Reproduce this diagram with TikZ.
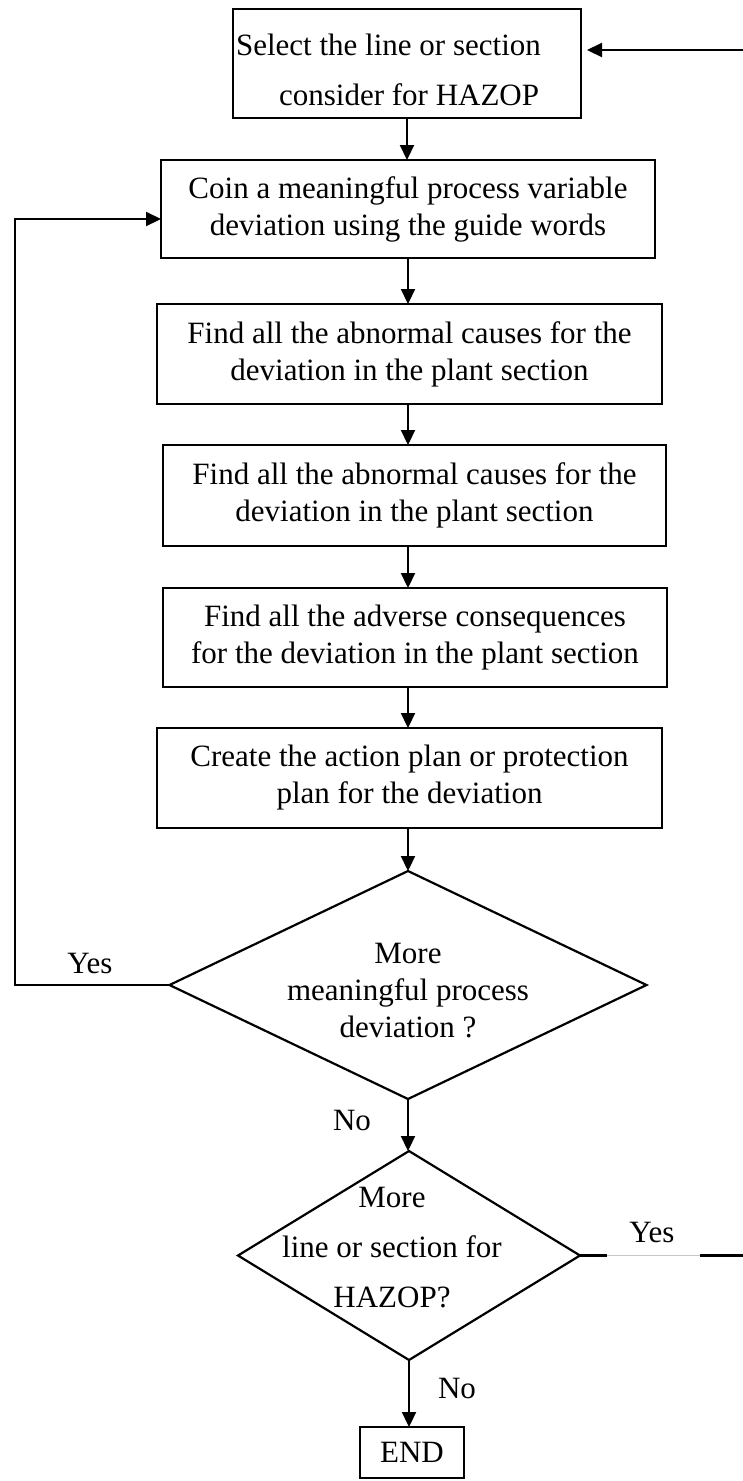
\documentclass[tikz,border=0pt]{standalone}
\usepackage{fontspec}
\setmainfont{Liberation Serif}
\usetikzlibrary{arrows.meta,shapes.geometric}
\begin{document}
\begin{tikzpicture}[x=1pt,y=-1pt,
  font=\fontsize{31}{37}\selectfont,
  line width=2.2pt,
  stepbox/.style={draw,rectangle,inner sep=0pt,outer sep=0pt,align=center},
  decision/.style={draw,diamond,inner sep=0pt,outer sep=0pt},
  flow/.style={-{Triangle[length=15pt,width=14pt]}},
  lbl/.style={inner sep=0pt}]
\useasboundingbox (0,0) rectangle (743,1481);

% process boxes
\node[stepbox,minimum width=348pt,minimum height=109pt] (box1) at (407,63.5) {};
\node[lbl,anchor=west] (sel1) at (235,45) {Select the line or section};
\node[lbl,anchor=west] (sel2) at (278,95) {consider for HAZOP};
\node[stepbox,minimum width=494pt,minimum height=98pt] (box2) at (408,209)
  {Coin a meaningful process variable\\deviation using the guide words};
\node[stepbox,minimum width=505pt,minimum height=100pt] (box3) at (409.5,354)
  {Find all the abnormal causes for the\\deviation in the plant section};
\node[stepbox,minimum width=503pt,minimum height=101pt] (box4) at (414.5,495.5)
  {Find all the abnormal causes for the\\deviation in the plant section};
\node[stepbox,minimum width=504pt,minimum height=99pt] (box5) at (415,637.5)
  {Find all the adverse consequences\\for the deviation in the plant section};
\node[stepbox,minimum width=505pt,minimum height=100pt] (box6) at (409.5,778)
  {Create the action plan or protection\\plan for the deviation};

% decisions
\node[decision,minimum width=477pt,minimum height=228pt] (d1) at (408,985) {};
\node[lbl,align=center] (d1text) at (408,990.5) {More\\meaningful process\\deviation ?};
\node[decision,minimum width=342pt,minimum height=209pt] (d2) at (409,1255.5) {};
\node[lbl,align=center,font=\fontsize{31}{50}\selectfont] (d2text) at (392,1248)
  {More\\line or section for\\HAZOP?};

% end
\node[stepbox,minimum width=104pt,minimum height=51pt] (endbox) at (412,1452.5) {END};

% main flow
\draw[flow] (box1.south) -- (box1.south |- box2.north);
\draw[flow] (box2.south) -- (box2.south |- box3.north);
\draw[flow] (box2.south |- box3.south) -- (box2.south |- box4.north);
\draw[flow] (box2.south |- box4.south) -- (box2.south |- box5.north);
\draw[flow] (box2.south |- box5.south) -- (box2.south |- box6.north);
\draw[flow] (d1.north |- box6.south) -- (d1.north);
\draw[flow] (d1.south) -- (d1.south |- d2.north);
\draw[flow] (d2.south) -- (d2.south |- endbox.north);

% loop back to the deviation step
\coordinate (loopL) at (15,219);
\draw[flow] (d1.west) -| (loopL) -- (loopL -| box2.west);

% loop back to the line selection step
\coordinate (gapA) at (607,1255.5);
\coordinate (gapB) at (700,1255.5);
\coordinate (retB) at (752,1255.5);
\coordinate (retT) at (752,50);
\coordinate (retEnd) at (587,50);
\draw (d2.east) -- (gapA);
\draw[line width=0.8pt,black!22] (gapA) -- (gapB);
\draw[flow] (gapB) -- (retB) -- (retT) -- (retEnd);

% branch labels
\node[lbl] (yes1) at (90,963) {Yes};
\node[lbl] (no1) at (352,1120) {No};
\node[lbl] (yes2) at (652,1232) {Yes};
\node[lbl] (no2) at (457,1388) {No};
\end{tikzpicture}
\end{document}
